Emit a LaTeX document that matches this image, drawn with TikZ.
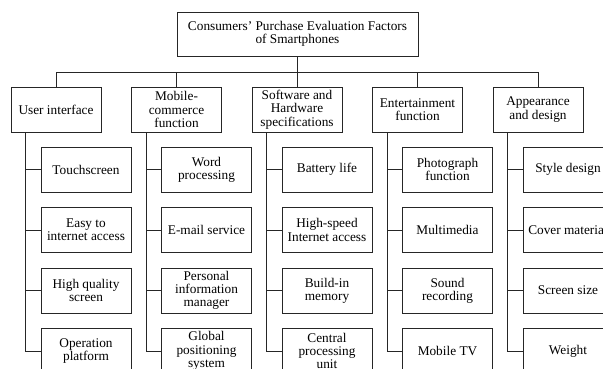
\documentclass[tikz,border=0pt]{standalone}
\usepackage{fontspec}
\setmainfont{Liberation Serif}
\usetikzlibrary{calc}

\begin{document}
\begin{tikzpicture}[x=1pt, y=-1pt,
  box/.style={draw=black!85, line width=0.8pt, minimum width=90pt, minimum height=45pt,
    inner sep=1pt, align=center, font=\fontsize{13.3}{13.3}\selectfont},
  link/.style={draw=black!85, line width=0.8pt}]
\useasboundingbox (0,0) rectangle (603,369);

% root
\node[box, minimum width=241pt, minimum height=44pt] (root) at (297.5,34)
  {Consumers’ Purchase Evaluation Factors\\of Smartphones};
\coordinate (bus) at (297.5,72);

% first level, pitch 120.5
\node[box] (g1) at (56,109.5) {User interface};
\node[box] (g2) at (176.5,109.5) {Mobile-\\commerce\\function};
\node[box] (g3) at (297,109.5) {Software and\\Hardware\\specifications};
\node[box] (g4) at (417.5,109.5) {Entertainment\\function};
\node[box] (g5) at (538,109.5) {Appearance\\and design};

% second level, rows at 169.5, 230, 290.5, 351
\node[box] (g11) at (86,169.5) {Touchscreen};
\node[box] (g12) at (86,230) {Easy to\\internet access};
\node[box] (g13) at (86,290.5) {High quality\\screen};
\node[box] (g14) at (86,351) {Operation\\platform};

\node[box] (g21) at (206.5,169.5) {Word\\processing};
\node[box] (g22) at (206.5,230) {E-mail service};
\node[box] (g23) at (206.5,290.5) {Personal\\information\\manager};
\node[box] (g24) at (206.5,351) {Global\\positioning\\system};

\node[box] (g31) at (327,169.5) {Battery life};
\node[box] (g32) at (327,230) {High-speed\\Internet access};
\node[box] (g33) at (327,290.5) {Build-in\\memory};
\node[box] (g34) at (327,351) {Central\\processing\\unit};

\node[box] (g41) at (447.5,169.5) {Photograph\\function};
\node[box] (g42) at (447.5,230) {Multimedia};
\node[box] (g43) at (447.5,290.5) {Sound\\recording};
\node[box] (g44) at (447.5,351) {Mobile TV};

\node[box] (g51) at (568,169.5) {Style design};
\node[box] (g52) at (568,230) {Cover material};
\node[box] (g53) at (568,290.5) {Screen size};
\node[box] (g54) at (568,351) {Weight};

% root to first level
\draw[link] (root.south) -- (bus);
\foreach \i in {1,...,5}
  \draw[link] (g\i.north) |- (bus);

% first level to second level
\foreach \i in {1,...,5} {
  \coordinate (s\i) at ($(g\i.south west)+(15,0)$);
  \draw[link] (s\i) |- (g\i4.west);
  \foreach \j in {1,2,3}
    \draw[link] (g\i\j.west) -- (g\i\j.west -| s\i);
}
\end{tikzpicture}
\end{document}
